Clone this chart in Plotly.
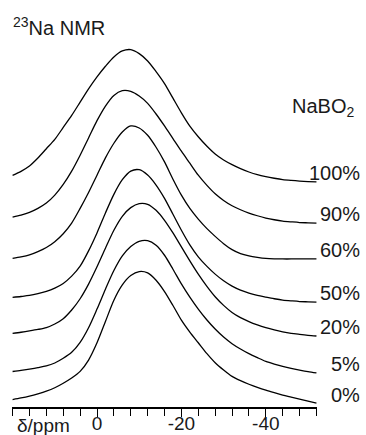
import plotly.graph_objects as go

# Chemical shift grid (ppm), high to low, 2 ppm steps
ppm = [20, 18, 16, 14, 12, 10, 8, 6, 4, 2, 0, -2, -4, -6, -8, -10, -12, -14, -16, -18,
       -20, -22, -24, -26, -28, -30, -32, -34, -36, -38, -40, -42, -44, -46, -48, -50, -52]

# Sample labels (NaBO2 content), top to bottom
labels = ["100%", "90%", "60%", "50%", "20%", "5%", "0%"]

# Vertical stacking offsets of each spectrum (same units as intensity)
offsets = [169.2, 138.3, 111.3, 78.9, 53.4, 25.6, 2.3]

# Normalised 23Na intensities (peak = 100)
int_100 = [5, 8, 12, 18, 25, 32, 41, 50, 60, 70, 79, 87, 94, 98.5, 99.5, 96.5, 91, 83, 74, 63,
           52, 42, 34, 27, 21, 16.5, 13, 10, 7.5, 5.5, 4, 2.8, 1.8, 1.2, 0.7, 0.3, 0]
int_90 = [4.5, 6, 8, 11, 15, 21, 29, 39, 51, 64, 77, 88, 96, 99.5, 99, 95.5, 90, 82, 73, 63.5,
          54, 45, 36, 28.5, 22, 17, 13, 10, 7.5, 5.5, 3.8, 2.5, 1.5, 0.9, 0.4, 0.2, 0]
int_60 = [0.4, 1.5, 3, 5.5, 8.6, 13, 19, 27, 38, 50, 63, 76, 87, 95.5, 100, 98.5, 93, 84, 73, 60,
          48, 38, 30, 23, 17, 11.5, 7, 4, 2.3, 1.2, 0.4, 0.1, 0, 0, 0, 0, 0]
int_50 = [3.5, 4.2, 5, 6.3, 8, 10.5, 14, 19.5, 27, 38.5, 52, 67, 81, 92, 98.5, 99.5, 95.5, 88, 78, 66,
          54, 43, 34, 27, 21, 16, 12, 9, 6.8, 5, 3.7, 2.5, 1.5, 0.9, 0.4, 0.2, 0]
int_20 = [1.9, 2.8, 3.8, 4.9, 6.3, 9, 13, 19.5, 28, 39, 52, 66, 79.5, 90, 96.5, 99.5, 99, 94.5, 87, 77.5,
          67, 56.5, 46.5, 37.5, 29.5, 23, 17.7, 13.8, 10.8, 8.3, 6.2, 4.5, 3.1, 2, 1.2, 0.5, 0]
int_5 = [1.1, 1.9, 2.9, 4, 5.3, 7.5, 11, 15.5, 23, 34, 48, 63, 77, 88, 95, 99, 99.5, 96, 88.5, 78,
         67, 57, 48, 40, 33, 27, 22, 18, 14.5, 11.5, 8.7, 6.7, 5, 3.5, 2.2, 1, 0]
int_0 = [3.3, 4.5, 5.9, 7.6, 9.6, 12.2, 15.6, 19.5, 24.5, 33, 46, 62, 78, 89.5, 96.5, 99.5, 98.5, 93, 84.5, 74,
         63, 54, 46, 38, 31, 25.5, 20.7, 17.5, 14.8, 12.5, 10.4, 8.5, 6.7, 5.2, 3.7, 2.2, 0.7]

spectra = [int_100, int_90, int_60, int_50, int_20, int_5, int_0]

# Axis ticks
major_ticks = [0, -20, -40]
major_text = ["0", "-20", "-40"]

W, H = 366, 435
M_L, M_R, M_T, M_B = 12, 49, 30, 28
PLOT_W = W - M_L - M_R
PLOT_H = H - M_T - M_B
Y_SCALE = 1.33  # px per intensity unit
Y_MAX = PLOT_H / Y_SCALE

FONT = "Liberation Sans, Arial, Helvetica, sans-serif"
INK = "#1a1a1a"


def px_to_paper_x(px):
    return (px - M_L) / PLOT_W


def px_to_paper_y(py):
    return (H - M_B - py) / PLOT_H


fig = go.Figure()

for lab, off, spec in zip(labels, offsets, spectra):
    fig.add_trace(go.Scatter(
        x=ppm,
        y=[off + v for v in spec],
        mode="lines",
        line=dict(color="black", width=1.3, shape="spline", smoothing=0.8),
        name=lab,
        showlegend=False,
        hoverinfo="skip",
    ))
    fig.add_annotation(
        x=px_to_paper_x(362), xref="paper", xanchor="right",
        y=off + 7, yref="y", yanchor="middle",
        text=lab, showarrow=False,
        font=dict(family=FONT, size=20, color=INK),
    )

fig.add_annotation(
    x=px_to_paper_x(290), xref="paper", xanchor="left",
    y=px_to_paper_y(108), yref="paper", yanchor="middle",
    text="NaBO<sub>2</sub>", showarrow=False,
    font=dict(family=FONT, size=20, color=INK),
)

fig.add_annotation(
    x=px_to_paper_x(11), xref="paper", xanchor="left",
    y=px_to_paper_y(27), yref="paper", yanchor="middle",
    text="<sup>23</sup>Na NMR", showarrow=False,
    font=dict(family=FONT, size=20, color=INK),
)

fig.add_annotation(
    x=px_to_paper_x(43), xref="paper", xanchor="center",
    y=px_to_paper_y(425), yref="paper", yanchor="middle",
    text="δ/ppm", showarrow=False,
    font=dict(family=FONT, size=19, color=INK),
)

fig.update_xaxes(
    range=[20.14, -52.13],
    automargin=False,
    showgrid=False, zeroline=False,
    showline=True, linecolor="black", linewidth=1.5,
    ticks="outside", ticklen=8, tickwidth=1.3, tickcolor="black",
    ticklabelstandoff=-10,
    tickvals=major_ticks, ticktext=major_text,
    tickfont=dict(family=FONT, size=19, color=INK),
    minor=dict(dtick=4, tick0=0, ticks="outside", ticklen=7, tickwidth=1.1, tickcolor="black", showgrid=False),
)
fig.update_yaxes(
    range=[0, Y_MAX],
    automargin=False,
    visible=False, showgrid=False, zeroline=False,
)

fig.update_layout(
    width=W, height=H,
    margin=dict(l=M_L, r=M_R, t=M_T, b=M_B, pad=0),
    paper_bgcolor="white", plot_bgcolor="white",
    font=dict(family=FONT, color=INK),
)

fig.write_html("out.html")
